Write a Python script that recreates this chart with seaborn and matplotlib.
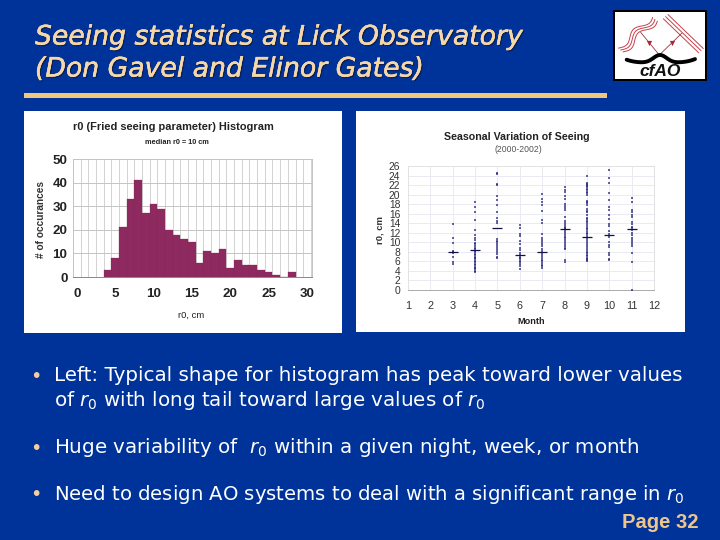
import numpy as np
import pandas as pd
import matplotlib
matplotlib.use("Agg")
import matplotlib.pyplot as plt
import matplotlib.patheffects as pe
from matplotlib.patches import Rectangle
from matplotlib.lines import Line2D
import seaborn as sns

# ---------- data ----------
r0_bins = [4, 5, 6, 7, 8, 9, 10, 11, 12, 13, 14, 15, 16, 17, 18, 19, 20, 21, 22, 23, 24, 25, 26, 27, 28]
r0_counts = [3, 8, 21, 33, 41, 27, 31, 29, 20, 18, 16, 15, 6, 11, 10, 12, 4, 7, 5, 5, 3, 2, 1, 0, 2]

m3 = [13.8, 11, 9.8, 8.2, 8, 7.8, 7, 5.8, 5.5]
m4 = [18.4, 17.4, 16.3, 14.6, 12.5, 11.6, 11, 10.5, 9.9, 9.6, 9.2, 8.8, 8.5, 8.2, 7.9, 7.6, 7.3, 7, 6.7, 6.4,
      6.1, 5.8, 5.5, 5.2, 4.9, 4.6, 4.3, 4, 3.7]
m5 = [24.5, 24.3, 22.3, 22.1, 19.7, 18.8, 17.9, 16.4, 15.2, 14.5, 14.1, 10.6, 10.3, 10, 9.7, 9.3, 8.9, 8.4, 8, 7.5, 7, 6.8]
m6 = [13.6, 13, 11.8, 11.3, 10.3, 9.6, 8.8, 8.3, 7.8, 7.4, 7, 6.7, 6.4, 6.1, 5.8, 5.5, 5.1, 4.5]
m7 = [20.2, 19, 18.5, 17.9, 16.5, 14.7, 14, 11.8, 10.9, 10.5, 10.1, 9.7, 9.2, 8.7, 8.2, 7.5, 7.1, 6.7, 6.3, 6, 5.6, 5.3, 5, 4.7]
m8 = [21.6, 21, 20.5, 19.8, 19, 18, 17.6, 17.2, 16.8, 15.3, 14.4, 14, 13.6, 13.3, 13, 12.7, 12.4, 12, 11.6, 11.2,
      10.8, 10.4, 10, 9.6, 9.2, 8.8, 8.6, 6.3, 5.9]
m9 = [23.8, 22.5, 22.3, 22.1, 21.8, 21.5, 21.2, 20.9, 20.6, 20.3, 20, 18.6, 18.4, 18.2, 17.9, 16.9, 16.6, 16.3, 15.8,
      15.2, 14.8, 14.5, 14.2, 13.9, 13.5, 13.1, 12.8, 12.4, 12, 11.7, 11.3, 10.9, 10.4, 10, 9.6, 9.2, 8.8, 8.4, 8, 7.7,
      7.4, 7.1, 6.8, 6.5, 6.2, 6.0]
m10 = [25.1, 23.4, 22.4, 20.3, 18.8, 17.3, 16.8, 15.8, 14.8, 13.9, 13.5, 12.3, 11.8, 11.2, 10, 9.5, 9, 7.7, 7.3, 6.6, 6.2]
m11 = [19.2, 18.5, 16.8, 16.3, 15.8, 15.3, 14.3, 13.8, 13.3, 12.9, 12.5, 12, 11.5, 11, 10.5, 10, 9.6, 9.2, 7.8, 5.9, 0.1]
months = [3, 4, 5, 6, 7, 8, 9, 10, 11]
month_values = [m3, m4, m5, m6, m7, m8, m9, m10, m11]
medians = [8, 8.4, 13, 7.4, 8, 12.8, 11.2, 11.6, 12.7]

# ---------- style ----------
W, H = 720, 540
BG = "#003399"
TITLE = "#F6D7A8"
RULE = "#EFC77E"
BAR = "#8E2A60"
sns.set_theme(style="white")
plt.rcParams["font.family"] = ["Liberation Sans", "DejaVu Sans"]
plt.rcParams["mathtext.fontset"] = "custom"
plt.rcParams["mathtext.rm"] = "DejaVu Sans"
plt.rcParams["mathtext.it"] = "DejaVu Sans:italic"

fig = plt.figure(figsize=(W / 100, H / 100), dpi=100, facecolor=BG)


def fx(x):
    return x / W


def fy(y):
    return 1 - y / H


def axes_px(x0, y0, x1, y1, **kw):
    return fig.add_axes([fx(x0), fy(y1), (x1 - x0) / W, (y1 - y0) / H], **kw)


def panel(x0, y0, x1, y1, fc="white", **kw):
    fig.add_artist(Rectangle((fx(x0), fy(y1)), (x1 - x0) / W, (y1 - y0) / H, transform=fig.transFigure,
                             fc=fc, ec="none", zorder=-5, **kw))


def label(x, y, s, **kw):
    kw.setdefault("ha", "center")
    kw.setdefault("va", "center")
    kw.setdefault("color", "#222222")
    return fig.text(fx(x), fy(y), s, **kw)


# ---------- header ----------
title_font = "DejaVu Sans"
title_fx = [pe.withSimplePatchShadow(offset=(1.0, -1.0), shadow_rgbFace="#0A1F55", alpha=1),
            pe.withStroke(linewidth=0.3, foreground=TITLE)]
for (ty, s) in [(37.5, "Seeing statistics at Lick Observatory"), (69.5, "(Don Gavel and Elinor Gates)")]:
    label(35, ty, s, ha="left", color=TITLE, fontsize=19.2, family=title_font, style="italic",
          path_effects=title_fx)
panel(24, 93, 607, 97.5, fc=RULE)

# ---------- histogram panel ----------
panel(24, 111, 342, 333)
ax1 = axes_px(73, 159, 312, 277)
frame1 = pd.DataFrame({"r0": r0_bins, "count": r0_counts})
grid_edges = np.arange(-0.5, 31.5, 1)
sns.histplot(data=frame1, x="r0", weights="count", discrete=True, color=BAR, alpha=1,
             edgecolor="#852858", linewidth=0.2, ax=ax1, zorder=3)
ax1.set_xlim(-0.5, 30.65)
ax1.set_ylim(0, 50)
ax1.set_xticks(grid_edges, minor=True)
ax1.set_xticks(np.arange(0, 31, 5))
ax1.set_yticks(np.arange(0, 51, 10))
ax1.grid(True, axis="x", which="minor", color="#D2D2D2", lw=0.7)
ax1.grid(True, axis="y", which="major", color="#C4C4C4", lw=0.7)
ax1.set_axisbelow(True)
ax1.tick_params(axis="x", which="both", length=0, labelbottom=True, pad=8,
                labelsize=9.6, labelcolor="#222222")
ax1.tick_params(axis="y", length=0, pad=4, labelsize=9.6, labelcolor="#222222")
for t in ax1.get_xticklabels() + ax1.get_yticklabels():
    t.set_fontweight("bold")
ax1.set_xlabel("")
ax1.set_ylabel("")
for side, sp in ax1.spines.items():
    sp.set_color("#C4C4C4")
    sp.set_linewidth(0.7)
ax1.spines["bottom"].set_color("#888888")
label(173, 126.5, "r0 (Fried seeing parameter) Histogram", fontsize=7.9, fontweight="bold")
label(177, 142, "median r0 = 10 cm", fontsize=5.3, fontweight="bold")
label(191, 315, "r0, cm", fontsize=6.8, color="#222222")
label(41, 219, "# of occurances", fontsize=7.3, fontweight="bold", rotation=90, color="#333333")

# ---------- seasonal panel ----------
panel(356, 111, 685, 332)
ax2 = axes_px(408, 166, 654, 290)
points = pd.DataFrame({
    "month": np.concatenate([[m] * len(v) for m, v in zip(months, month_values)]),
    "r0": np.concatenate(month_values),
})
sns.scatterplot(data=points, x="month", y="r0", color="#24247E", marker="s", s=2.0, linewidth=0, alpha=0.7,
                ax=ax2, zorder=3, clip_on=False)
sns.scatterplot(x=months, y=medians, color="#10104A", marker="_", s=42, linewidth=0.9, ax=ax2, zorder=4)
ax2.set_xlim(1, 12)
ax2.set_ylim(0, 26)
ax2.set_xticks(np.arange(1, 13))
ax2.set_yticks(np.arange(0, 27, 2))
ax2.grid(True, color="#EAEAF2", lw=0.7)
ax2.set_axisbelow(True)
ax2.tick_params(axis="x", length=0, pad=8, labelsize=7.8, labelcolor="#333333")
ax2.tick_params(axis="y", length=0, pad=5.5, labelsize=7.4, labelcolor="#333333")
ax2.set_xlabel("")
ax2.set_ylabel("")
for side, sp in ax2.spines.items():
    sp.set_color("#E2E2E2")
    sp.set_linewidth(0.7)
ax2.spines["bottom"].set_color("#AAAAAA")
label(517, 137, "Seasonal Variation of Seeing", fontsize=7.7, fontweight="bold")
label(518, 150, "(2000-2002)", fontsize=6.2, color="#555555")
label(531, 321, "Month", fontsize=6.6, fontweight="bold")
label(380, 230, "r0, cm", fontsize=6.8, rotation=90, fontweight="bold", color="#333333")

# ---------- logo ----------
panel(613, 10, 707, 81, fc="black")
panel(615, 12, 705, 79)
logo = axes_px(600, 0, 720, 95)
logo.set_xlim(0, 360)
logo.set_ylim(285, 0)
logo.axis("off")
logo.patch.set_alpha(0)
LOGO_RED = "#C8404A"
t = np.linspace(0, 1, 60)
for off in (-7, 0, 7):
    xs = 62 + 100 * t + off + 7 * np.sin(t * 9)
    ys = 150 - 95 * t + off * 0.8 + 7 * np.sin(t * 9)
    logo.add_line(Line2D(xs, ys, color=LOGO_RED, lw=0.7))
    logo.add_line(Line2D([197 + off, 303 + off], [50 - off * 0.9, 152 - off * 0.9], color=LOGO_RED, lw=0.7))
logo.add_line(Line2D([122, 178, 245], [97, 165, 100], color="#A03040", lw=0.6))
logo.scatter([148, 215], [130, 130], marker="v", s=14, color="#B02030", linewidths=0)
bx = np.linspace(80, 285, 80)
by = 188 - 23 * np.exp(-((bx - 180) / 28) ** 2) - 10 * ((bx - 180) / 103) ** 4
logo.add_line(Line2D(bx, by, color="black", lw=2.8))
logo.text(180, 214, "cfAO", ha="center", va="center", fontsize=12.5, fontweight="bold", style="italic", color="#111111")

# ---------- body text ----------
body_font = "DejaVu Sans"
BODY = "white"
body_lines = [
    (375, "Left: Typical shape for histogram has peak toward lower values", True, 14.35),
    (400, r"of $\mathit{r}_{0}$ with long tail toward large values of $\mathit{r}_{0}$", False, 14.35),
    (447, r"Huge variability of  $\mathit{r}_{0}$ within a given night, week, or month", True, 14.3),
    (494, r"Need to design AO systems to deal with a significant range in $\mathit{r}_{0}$", True, 14.1),
]
for y, s, bullet, size in body_lines:
    label(54, y + 6, s, ha="left", va="baseline", color=BODY, fontsize=size, family=body_font)
    if bullet:
        label(36, y + 1, "\u2022", color="#F3CFA0", fontsize=14, family="DejaVu Sans")
label(699, 523, "Page 32", ha="right", color="#EFC68A", fontsize=14.5, fontweight="bold")

fig.savefig("out.png", dpi=100, facecolor=BG)
